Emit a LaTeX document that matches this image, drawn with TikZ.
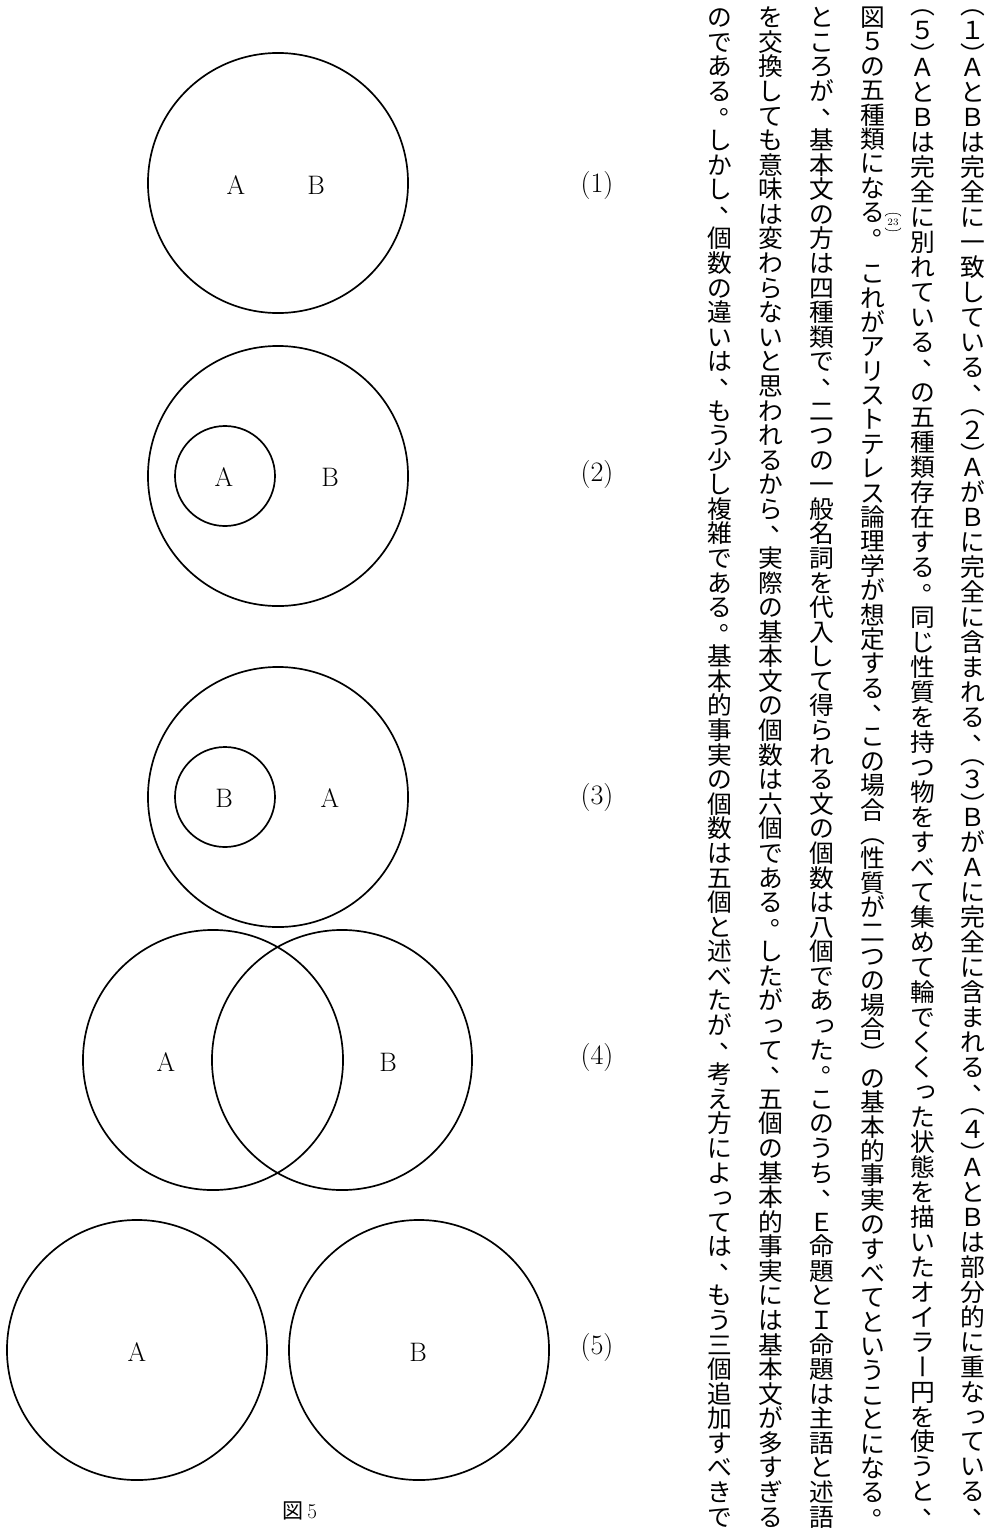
\documentclass[tikz,border=0pt]{standalone}
\usepackage{fontspec}
\newfontfamily\cjk{Noto Sans CJK JP}
\usetikzlibrary{positioning}
\tikzset{
  ring/.style={draw, circle, line width=1.2pt, minimum size=6.5cm, inner sep=0pt},
  sub/.style={draw, circle, line width=1.2pt, minimum size=2.5cm, inner sep=0pt},
  lbl/.style={font=\fontsize{19}{19}\selectfont},
  num/.style={font=\fontsize{20}{20}\selectfont},
  figcap/.style={font=\fontsize{15}{15}\selectfont},
  tch/.style={inner sep=-3pt, text height=15.5pt, text depth=2.1pt, font=\cjk\fontsize{17.6}{17.6}\selectfont},
}
% vertical columns: one node per character
\newcount\tcnt \newcount\tcum \newcount\tw
\newif\ifhalfparen
\def\tgap{}
\def\tweight#1{\tw=2 \ifhalfparen\ifx#1（\tw=1 \fi\ifx#1）\tw=1 \fi\fi\ifx#1\tgap\tw=1 \fi}
\def\tcount#1{\ifx#1\relax\else\tweight{#1}\advance\tcnt by\tw\expandafter\tcount\fi}
\def\tplace#1{\ifx#1\relax\else\tweight{#1}\tdraw{#1}\advance\tcum by\tw\expandafter\tplace\fi}
\def\tdraw#1{%
  \pgfmathsetmacro\tyc{\ty+(\the\tcum+\the\tw/2)*\tunit}%
  \def\trot{0}\def\tdx{0}\def\tdy{0}%
  \ifx#1（\def\trot{-90}\ifhalfparen\def\tdy{-6.3}\fi\fi
  \ifx#1）\def\trot{-90}\ifhalfparen\def\tdy{6.3}\fi\fi
  \ifx#1ー\def\trot{-90}\fi
  \ifx#1、\def\tdx{12}\def\tdy{-11}\fi
  \ifx#1。\def\tdx{12}\def\tdy{-11}\fi
  \ifx#1っ\def\tdx{2.5}\def\tdy{-2.5}\fi
  \ifx#1\tgap\else\node[tch, rotate=\trot] (\tname-\the\tcum) at (\tx+\tdx,\tyc+\tdy) {#1};\fi}
\newcommand\tatecol[3]{% x, name, text
  \def\tx{#1}\def\ty{5}\def\tname{#2}%
  \tcnt=0 \tcount#3\relax
  \pgfmathsetmacro\tunit{1524/\the\tcnt}%
  \tcum=0 \tplace#3\relax}

\begin{document}
\begin{tikzpicture}[x=0.025cm, y=-0.025cm]
    \useasboundingbox (0,0) rectangle (996,1532);
    % (1)
    \node[ring] (one) at (278,183) {};
    \node[lbl] (oneA) at (236,185) {A};
    \node[lbl] (oneB) at (316,185) {B};
    \node[num] (n1) at (597,185) {(1)};
    % (2)
    \node[ring] (two) at (278,476) {};
    \node[sub] (twoin) at (225,476) {};
    \node[lbl] (twoA) at (224,477) {A};
    \node[lbl] (twoB) at (330,477) {B};
    \node[num] (n2) at (597,474) {(2)};
    % (3)
    \node[ring] (three) at (278,797) {};
    \node[sub] (threein) at (225,797) {};
    \node[lbl] (threeB) at (224,798) {B};
    \node[lbl] (threeA) at (330,798) {A};
    \node[num] (n3) at (597,797) {(3)};
    % (4)
    \node[ring] (fourA) at (213,1060) {};
    \node[ring] (fourB) at (342,1060) {};
    \node[lbl] (fA) at (166,1062) {A};
    \node[lbl] (fB) at (388,1062) {B};
    \node[num] (n4) at (597,1057) {(4)};
    % (5)
    \node[ring] (fiveA) at (137,1350) {};
    \node[ring] (fiveB) at (419,1350) {};
    \node[lbl] (vA) at (137,1352) {A};
    \node[lbl] (vB) at (418,1352) {B};
    \node[num] (n5) at (597,1347) {(5)};
    \node[figcap] (fig) at (300,1511) {{\cjk 図}\,5};
    % text
    \halfparentrue
    \tatecol{973}{colA}{（１）ＡとＢは完全に一致している、（２）ＡがＢに完全に含まれる、（３）ＢがＡに完全に含まれる、（４）ＡとＢは部分的に重なっている、}
    \tatecol{923}{colB}{（５）ＡとＢは完全に別れている、の五種類存在する。同じ性質を持つ物をすべて集めて輪でくくった状態を描いたオイラー円を使うと、}
    \halfparenfalse
    \tatecol{872.5}{colC}{図５の五種類になる。\tgap これがアリストテレス論理学が想定する、この場合（性質が二つの場合）の基本的事実のすべてということになる。}
    \tatecol{822}{colD}{ところが、基本文の方は四種類で、二つの一般名詞を代入して得られる文の個数は八個であった。このうち、Ｅ命題とＩ命題は主語と述語}
    \tatecol{771}{colE}{を交換しても意味は変わらないと思われるから、実際の基本文の個数は六個である。したがって、五個の基本的事実には基本文が多すぎる}
    \tatecol{720}{colF}{のである。しかし、個数の違いは、もう少し複雑である。基本的事実の個数は五個と述べたが、考え方によっては、もう三個追加すべきで}
    % note mark
    \node[inner sep=1.5pt, font=\fontsize{7}{7}\selectfont] (fn) at (893,222) {23};
    \draw[line width=0.4pt] (fn.north west) .. controls +(1,-4) and +(-1,-4) .. (fn.north east);
    \draw[line width=0.4pt] (fn.south west) .. controls +(1,4) and +(-1,4) .. (fn.south east);
  \end{tikzpicture}
\end{document}
